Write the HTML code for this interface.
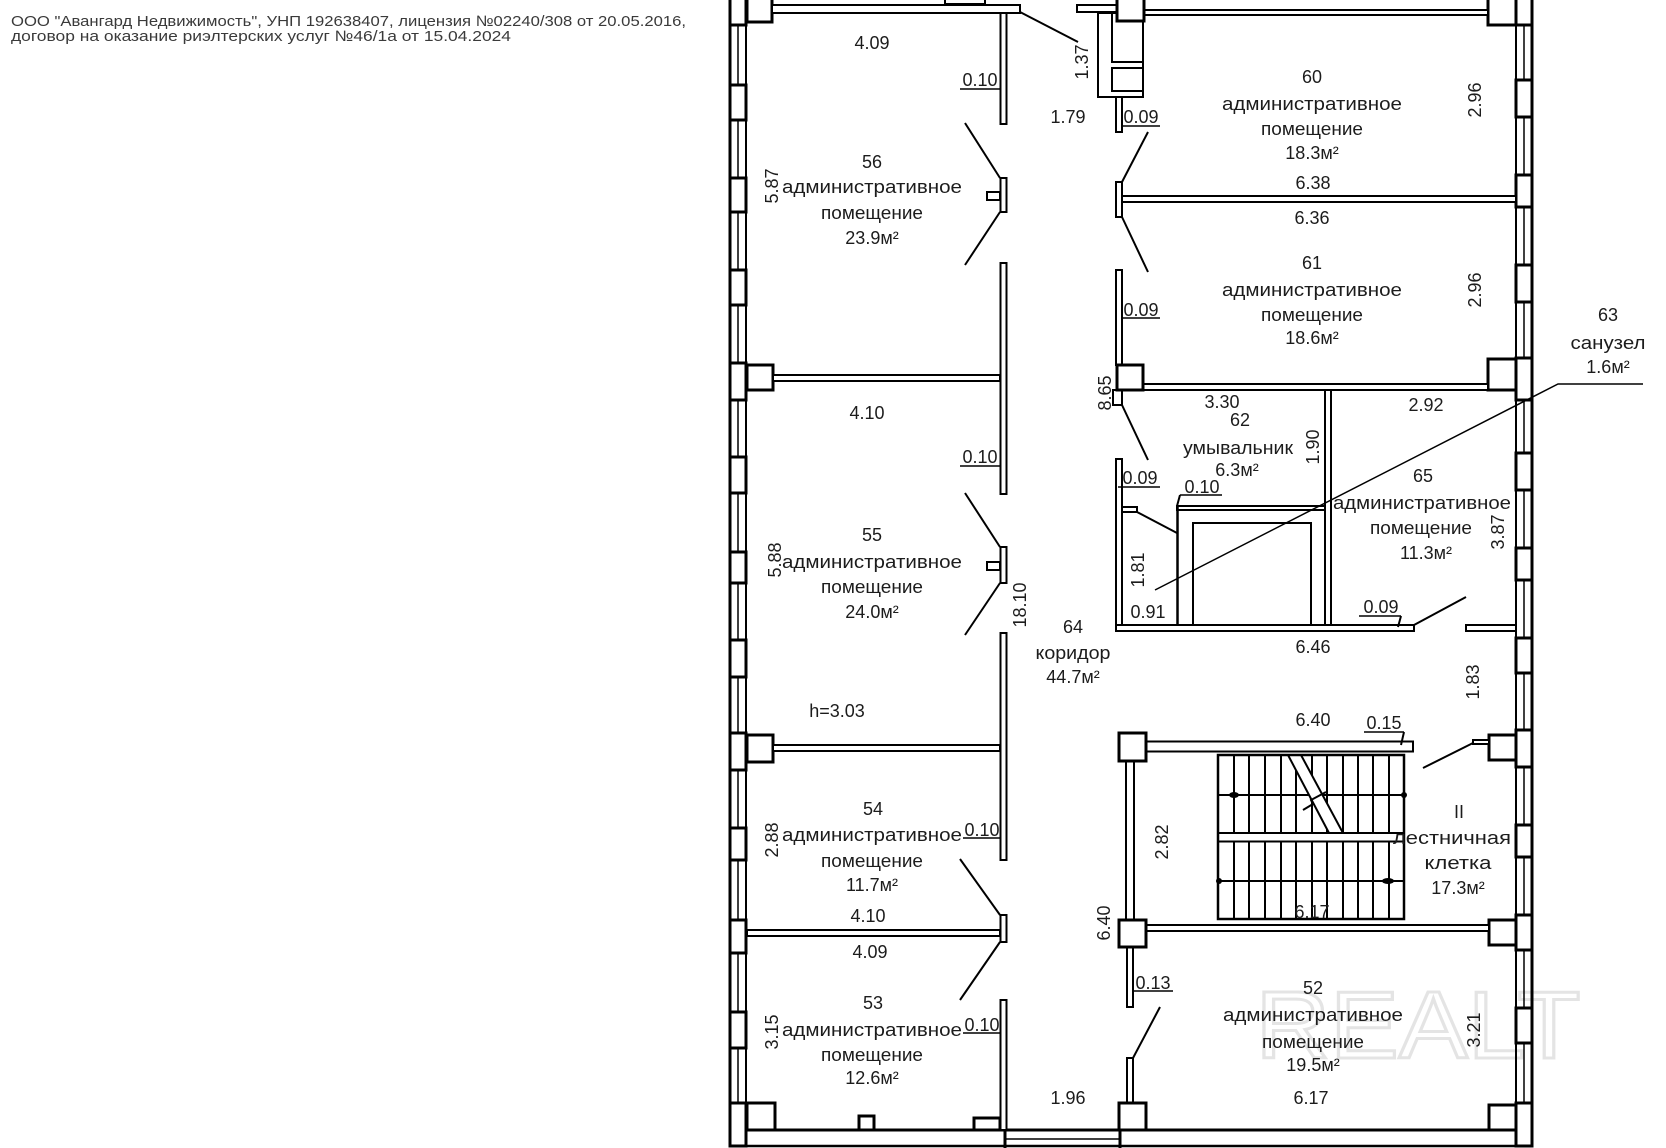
<!DOCTYPE html>
<html><head><meta charset="utf-8"><style>
html,body{margin:0;padding:0;background:#fff;}
svg{display:block}
text{font-family:"Liberation Sans","DejaVu Sans",sans-serif;fill:#1c1c1c;}
</style></head><body>
<svg width="1666" height="1148" viewBox="0 0 1666 1148" xmlns="http://www.w3.org/2000/svg">
<rect width="1666" height="1148" fill="#fff"/>

<!-- header -->
<text x="11" y="26" font-size="15" textLength="675" lengthAdjust="spacingAndGlyphs" style="fill:#3a3a3a">ООО "Авангард Недвижимость", УНП 192638407, лицензия №02240/308 от 20.05.2016,</text>
<text x="11" y="41" font-size="15" textLength="500" lengthAdjust="spacingAndGlyphs" style="fill:#3a3a3a">договор на оказание риэлтерских услуг №46/1а от 15.04.2024</text>

<!-- watermark -->
<text x="1418" y="1058" font-size="96" text-anchor="middle" textLength="325" lengthAdjust="spacingAndGlyphs" style="fill:none;stroke:#e4e4e4;stroke-width:3">REALT</text>

<g stroke="#000" fill="none" stroke-width="2">
<!-- left exterior -->
<line x1="730" y1="0" x2="730" y2="1147" stroke-width="3"/>
<line x1="738" y1="0" x2="738" y2="1103" stroke-width="1.5"/>
<line x1="746" y1="0" x2="746" y2="1130" stroke-width="2"/>
<!-- right exterior -->
<line x1="1516" y1="0" x2="1516" y2="1130" stroke-width="2"/>
<line x1="1524" y1="0" x2="1524" y2="1103" stroke-width="1.5"/>
<line x1="1532" y1="0" x2="1532" y2="1147" stroke-width="3"/>
<!-- bottom -->
<line x1="746" y1="1130" x2="1516" y2="1130" stroke-width="3"/>
<line x1="730" y1="1146" x2="1532" y2="1146" stroke-width="2.5"/>
<line x1="1005" y1="1139" x2="1120" y2="1139" stroke-width="1.5"/>
<line x1="1005" y1="1128" x2="1005" y2="1148" stroke-width="3"/>
<line x1="1120" y1="1128" x2="1120" y2="1148" stroke-width="3"/>
</g>

<g stroke="#000" fill="#fff" stroke-width="3">
<!-- left piers -->
<rect x="730" y="-3" width="16" height="28"/>
<rect x="730" y="85" width="16" height="35"/>
<rect x="730" y="178" width="16" height="34"/>
<rect x="730" y="270" width="16" height="35"/>
<rect x="730" y="363" width="16" height="37"/>
<rect x="730" y="457" width="16" height="36"/>
<rect x="730" y="552" width="16" height="31"/>
<rect x="730" y="640" width="16" height="37"/>
<rect x="730" y="733" width="16" height="37"/>
<rect x="730" y="828" width="16" height="32"/>
<rect x="730" y="920" width="16" height="33"/>
<rect x="730" y="1012" width="16" height="36"/>
<rect x="730" y="1103" width="16" height="43"/>
<!-- left columns -->
<rect x="747" y="-3" width="25" height="25"/>
<rect x="747" y="365" width="26" height="25"/>
<rect x="747" y="735" width="26" height="27"/>
<rect x="747" y="1103" width="28" height="27"/>
<!-- right piers -->
<rect x="1516" y="-3" width="16" height="28"/>
<rect x="1516" y="80" width="16" height="37"/>
<rect x="1516" y="175" width="16" height="32"/>
<rect x="1516" y="265" width="16" height="37"/>
<rect x="1516" y="358" width="16" height="42"/>
<rect x="1516" y="453" width="16" height="37"/>
<rect x="1516" y="548" width="16" height="32"/>
<rect x="1516" y="638" width="16" height="35"/>
<rect x="1516" y="730" width="16" height="37"/>
<rect x="1516" y="825" width="16" height="32"/>
<rect x="1516" y="915" width="16" height="35"/>
<rect x="1516" y="1008" width="16" height="35"/>
<rect x="1516" y="1103" width="16" height="43"/>
<!-- right columns -->
<rect x="1488" y="-3" width="28" height="28"/>
<rect x="1488" y="359" width="28" height="31"/>
<rect x="1489" y="735" width="27" height="25"/>
<rect x="1489" y="920" width="27" height="25"/>
<rect x="1489" y="1105" width="27" height="25"/>
<!-- bottom piers -->
<rect x="859" y="1116" width="15" height="14"/>
<rect x="974" y="1118" width="26" height="12"/>
</g>

<g stroke="#000" fill="#fff" stroke-width="2">
<!-- top wall left -->
<rect x="945" y="-3" width="40" height="7"/>
<rect x="772" y="5" width="248" height="8"/>
<!-- top middle -->
<rect x="1077" y="5" width="40" height="7"/>
<!-- shaft -->
<rect x="1098" y="13" width="45" height="84"/>
<rect x="1112" y="13" width="31" height="49"/>
<rect x="1112" y="68" width="31" height="23"/>
<!-- top right wall -->
<rect x="1143" y="10" width="345" height="5"/>
</g>
<rect x="1117" y="-3" width="27" height="24" fill="#fff" stroke="#000" stroke-width="3"/>

<g stroke="#000" fill="#fff" stroke-width="2">
<!-- corridor left wall -->
<rect x="1000.5" y="13" width="6" height="111"/>
<rect x="1000.5" y="263" width="6" height="231"/>
<rect x="1000.5" y="633" width="6" height="227"/>
<rect x="1000.5" y="1000" width="6" height="130"/>
<!-- door frames left -->
<rect x="1000.5" y="178" width="6" height="34"/>
<rect x="1000.5" y="547" width="6" height="36"/>
<rect x="1000.5" y="915" width="6" height="27"/>
<rect x="987" y="192" width="13" height="8"/>
<rect x="987" y="562" width="13" height="8"/>
<!-- left room walls -->
<rect x="773" y="375" width="227" height="6"/>
<rect x="773" y="745" width="227" height="6"/>
<rect x="747" y="930" width="253" height="6"/>

<!-- corridor right wall -->
<rect x="1116" y="97" width="6" height="35"/>
<rect x="1116" y="182" width="6" height="35"/>
<rect x="1116" y="270" width="6" height="95"/>
<rect x="1113" y="390" width="9" height="15"/>
<rect x="1116" y="459" width="6" height="172"/>
<!-- right rooms walls -->
<rect x="1122" y="196" width="394" height="6"/>
<rect x="1143" y="384" width="345" height="6"/>
<rect x="1325" y="390" width="6" height="235"/>
<rect x="1116" y="625" width="298" height="6"/>
<rect x="1466" y="625" width="50" height="6"/>
<!-- lift -->
<rect x="1177" y="506" width="148" height="4"/>
<rect x="1193" y="523" width="118" height="102"/>
<rect x="1122" y="507" width="15" height="5"/>
<!-- stair enclosure -->
<rect x="1145" y="741.5" width="268" height="10"/>
<rect x="1126" y="761" width="8" height="159"/>
<rect x="1145" y="925" width="344" height="6"/>
<rect x="1473" y="740" width="16" height="4"/>
<rect x="1127" y="947" width="6" height="60"/>
<rect x="1127" y="1058" width="6" height="45"/>
</g>
<line x1="1177.5" y1="506" x2="1177.5" y2="625" stroke="#000" stroke-width="2.5"/>

<g stroke="#000" fill="#fff" stroke-width="3">
<rect x="1117" y="365" width="26" height="25"/>
<rect x="1119" y="733" width="27" height="28"/>
<rect x="1119" y="920" width="27" height="27"/>
<rect x="1119" y="1103" width="27" height="27"/>
</g>

<!-- door leaves and leaders -->
<g stroke="#000" stroke-width="2" fill="none">
<line x1="1000" y1="178" x2="965" y2="123"/>
<line x1="1000" y1="212" x2="965" y2="265"/>
<line x1="1000" y1="547" x2="965" y2="493"/>
<line x1="1000" y1="583" x2="965" y2="635"/>
<line x1="1000" y1="915" x2="960" y2="859"/>
<line x1="1000" y1="942" x2="960" y2="1000"/>
<line x1="1122" y1="182" x2="1148" y2="132"/>
<line x1="1122" y1="217" x2="1148" y2="272"/>
<line x1="1122" y1="405" x2="1148" y2="460"/>
<line x1="1414" y1="625" x2="1466" y2="597"/>
<line x1="1473" y1="743" x2="1423" y2="768"/>
<line x1="1133" y1="1058" x2="1160" y2="1007"/>
<line x1="1137" y1="512" x2="1177" y2="533"/>
<line x1="1020" y1="12" x2="1078" y2="42"/>
<polyline points="1643,384 1558,384 1155,590" stroke-width="1.5"/>
<!-- ticks -->
<line x1="1401" y1="616" x2="1398" y2="627"/>
<line x1="1404" y1="732" x2="1401" y2="745"/>
<line x1="1180" y1="495" x2="1177" y2="506"/>
</g>

<!-- stairs -->
<g stroke="#000" stroke-width="2" fill="none">
<line x1="1234" y1="755" x2="1234" y2="919"/>
<line x1="1249" y1="755" x2="1249" y2="919"/>
<line x1="1265" y1="755" x2="1265" y2="919"/>
<line x1="1281" y1="755" x2="1281" y2="919"/>
<line x1="1296" y1="755" x2="1296" y2="919"/>
<line x1="1312" y1="755" x2="1312" y2="919"/>
<line x1="1327" y1="755" x2="1327" y2="919"/>
<line x1="1343" y1="755" x2="1343" y2="919"/>
<line x1="1358" y1="755" x2="1358" y2="919"/>
<line x1="1373" y1="755" x2="1373" y2="919"/>
<line x1="1389" y1="755" x2="1389" y2="919"/>
<line x1="1218" y1="795" x2="1404" y2="795"/>
<line x1="1218" y1="881" x2="1404" y2="881"/>
<polygon points="1288,755 1301,755 1343,833 1329,833" fill="#fff" stroke="none"/>
<line x1="1288" y1="755" x2="1329" y2="833"/>
<line x1="1301" y1="755" x2="1343" y2="833"/>
<path d="M1303,810 L1313,804 L1311,800 L1326,792"/>
<rect x="1218" y="833" width="186" height="8.5" fill="#fff"/>
<rect x="1218" y="755" width="186" height="164" stroke-width="2.5"/>
</g>
<g fill="#000">
<ellipse cx="1234" cy="795" rx="5" ry="3"/>
<circle cx="1404" cy="795" r="3"/>
<circle cx="1219" cy="881" r="3"/>
<ellipse cx="1388" cy="881" rx="6" ry="3"/>
</g>

<!-- labels -->
<g font-size="18" text-anchor="middle">
<text x="872" y="49">4.09</text>
<text x="980" y="86">0.10</text>
<text x="872" y="168">56</text>
<text x="872" y="193" textLength="180" lengthAdjust="spacingAndGlyphs">административное</text>
<text x="872" y="219" textLength="102" lengthAdjust="spacingAndGlyphs">помещение</text>
<text x="872" y="244">23.9м²</text>
<text x="772" y="192" transform="rotate(-90 772 186)">5.87</text>
<text x="1082" y="68" transform="rotate(-90 1082 62)">1.37</text>
<text x="1068" y="123">1.79</text>
<text x="1141" y="123">0.09</text>
<text x="1141" y="316">0.09</text>
<text x="1105" y="399" transform="rotate(-90 1105 393)">8.65</text>
<text x="867" y="419">4.10</text>
<text x="980" y="463">0.10</text>
<text x="872" y="541">55</text>
<text x="872" y="568" textLength="180" lengthAdjust="spacingAndGlyphs">административное</text>
<text x="872" y="593" textLength="102" lengthAdjust="spacingAndGlyphs">помещение</text>
<text x="872" y="618">24.0м²</text>
<text x="775" y="566" transform="rotate(-90 775 560)">5.88</text>
<text x="1020" y="611" transform="rotate(-90 1020 605)">18.10</text>
<text x="1073" y="633">64</text>
<text x="1073" y="659" textLength="75" lengthAdjust="spacingAndGlyphs">коридор</text>
<text x="1073" y="683">44.7м²</text>
<text x="837" y="717">h=3.03</text>
<text x="873" y="815">54</text>
<text x="872" y="841" textLength="180" lengthAdjust="spacingAndGlyphs">административное</text>
<text x="872" y="867" textLength="102" lengthAdjust="spacingAndGlyphs">помещение</text>
<text x="872" y="891">11.7м²</text>
<text x="772" y="846" transform="rotate(-90 772 840)">2.88</text>
<text x="982" y="836">0.10</text>
<text x="868" y="922">4.10</text>
<text x="870" y="958">4.09</text>
<text x="873" y="1009">53</text>
<text x="872" y="1036" textLength="180" lengthAdjust="spacingAndGlyphs">административное</text>
<text x="872" y="1061" textLength="102" lengthAdjust="spacingAndGlyphs">помещение</text>
<text x="872" y="1084">12.6м²</text>
<text x="772" y="1038" transform="rotate(-90 772 1032)">3.15</text>
<text x="982" y="1031">0.10</text>
<text x="1068" y="1104">1.96</text>
<text x="1162" y="848" transform="rotate(-90 1162 842)">2.82</text>
<text x="1104" y="929" transform="rotate(-90 1104 923)">6.40</text>
<text x="1153" y="989">0.13</text>

<text x="1312" y="83">60</text>
<text x="1312" y="110" textLength="180" lengthAdjust="spacingAndGlyphs">административное</text>
<text x="1312" y="135" textLength="102" lengthAdjust="spacingAndGlyphs">помещение</text>
<text x="1312" y="159">18.3м²</text>
<text x="1475" y="106" transform="rotate(-90 1475 100)">2.96</text>
<text x="1313" y="189">6.38</text>
<text x="1312" y="224">6.36</text>
<text x="1312" y="269">61</text>
<text x="1312" y="296" textLength="180" lengthAdjust="spacingAndGlyphs">административное</text>
<text x="1312" y="321" textLength="102" lengthAdjust="spacingAndGlyphs">помещение</text>
<text x="1312" y="344">18.6м²</text>
<text x="1475" y="296" transform="rotate(-90 1475 290)">2.96</text>
<text x="1608" y="321">63</text>
<text x="1608" y="349" textLength="75" lengthAdjust="spacingAndGlyphs">санузел</text>
<text x="1608" y="373">1.6м²</text>
<text x="1222" y="408">3.30</text>
<text x="1240" y="426">62</text>
<text x="1238" y="454" textLength="110" lengthAdjust="spacingAndGlyphs">умывальник</text>
<text x="1237" y="476">6.3м²</text>
<text x="1313" y="453" transform="rotate(-90 1313 447)">1.90</text>
<text x="1426" y="411">2.92</text>
<text x="1140" y="484">0.09</text>
<text x="1202" y="493">0.10</text>
<text x="1138" y="576" transform="rotate(-90 1138 570)">1.81</text>
<text x="1148" y="618">0.91</text>
<text x="1423" y="482">65</text>
<text x="1422" y="509" textLength="178" lengthAdjust="spacingAndGlyphs">административное</text>
<text x="1421" y="534" textLength="102" lengthAdjust="spacingAndGlyphs">помещение</text>
<text x="1426" y="559">11.3м²</text>
<text x="1498" y="538" transform="rotate(-90 1498 532)">3.87</text>
<text x="1381" y="613">0.09</text>
<text x="1313" y="653">6.46</text>
<text x="1473" y="688" transform="rotate(-90 1473 682)">1.83</text>
<text x="1313" y="726">6.40</text>
<text x="1384" y="729">0.15</text>
<text x="1459" y="818">II</text>
<text x="1452" y="844" textLength="118" lengthAdjust="spacingAndGlyphs">лестничная</text>
<text x="1458" y="869" textLength="67" lengthAdjust="spacingAndGlyphs">клетка</text>
<text x="1458" y="894">17.3м²</text>
<text x="1312" y="918">6.17</text>
<text x="1313" y="994">52</text>
<text x="1313" y="1021" textLength="180" lengthAdjust="spacingAndGlyphs">административное</text>
<text x="1313" y="1048" textLength="102" lengthAdjust="spacingAndGlyphs">помещение</text>
<text x="1313" y="1071">19.5м²</text>
<text x="1474" y="1036" transform="rotate(-90 1474 1030)">3.21</text>
<text x="1311" y="1104">6.17</text>
</g>

<!-- underlines -->
<g stroke="#000" stroke-width="1.5">
<line x1="960" y1="89" x2="1000" y2="89"/>
<line x1="1122" y1="126" x2="1160" y2="126"/>
<line x1="1122" y1="318" x2="1160" y2="318"/>
<line x1="960" y1="466" x2="1000" y2="466"/>
<line x1="963" y1="838" x2="1000" y2="838"/>
<line x1="963" y1="1033" x2="1000" y2="1033"/>
<line x1="1133" y1="991" x2="1173" y2="991"/>
<line x1="1118" y1="487" x2="1160" y2="487"/>
<line x1="1180" y1="495" x2="1222" y2="495"/>
<line x1="1359" y1="616" x2="1401" y2="616"/>
<line x1="1364" y1="732" x2="1404" y2="732"/>
</g>
</svg>
</body></html>
